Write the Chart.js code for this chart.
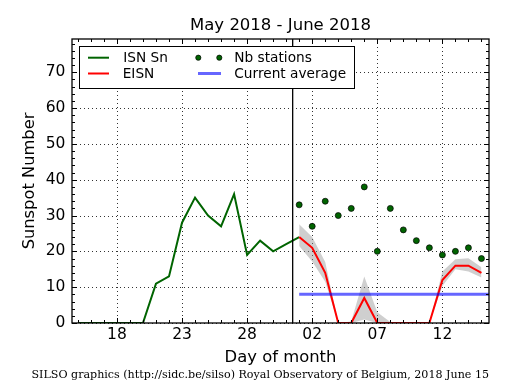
<!DOCTYPE html>
<html><head><meta charset="utf-8">
<script src="https://cdn.jsdelivr.net/npm/chart.js@4.4.1/dist/chart.umd.min.js"></script>
<style>html,body{margin:0;padding:0;background:#fff;}canvas{display:block}</style>
</head><body>
<canvas id="c" width="515" height="390"></canvas>
<script>
// ---- data ----
const titleText = 'May 2018 - June 2018';
const footerText = 'SILSO graphics (http://sidc.be/silso) Royal Observatory of Belgium, 2018 June 15';
const xAxisTitle = 'Day of month';
const yAxisTitle = 'Sunspot Number';
// day index: May 1 = 1, June 1 = 32
const isnDays   = [15,16,17,18,19,20,21,22,23,24,25,26,27,28,29,30,31,32];
const isnValues = [0,0,0,0,0,0,11,13,28,35,30,27,36,19,23,20,22,24];
const eisnDays   = [32,33,34,35,36,37,38,39,40,41,42,43,44,45,46];
const eisnValues = [24,21,14,0,0,7,0,0,0,0,0,12,16,16,14];
const eisnLower  = [21.5,17.2,11.5,0,0,1,0,0,0,0,0,10.3,15,14.4,12.7];
const eisnUpper  = [27.6,24,17,0,0.4,13,3,0.3,0,0,0,14.4,17.8,18.1,15.6];
const stationCounts = [33,27,34,30,32,38,20,32,26,23,21,19,20,21,18];
const currentAverage = 8;
const monthBoundary = 31.5;
const xTickValues = [18,23,28,33,38,43];
const xTickLabels = ['18','23','28','02','07','12'];
const yTickValues = [0,10,20,30,40,50,60,70];
const legendLabels = ['ISN Sn','EISN','Nb stations','Current average'];

// ---- axis ranges ----
const xMin = 14.55, xMax = 46.58, yMin = 0, yMax = 79.3;

const FONT = 'DejaVu Sans';
const pairs = (xs, ys) => xs.map((x, i) => ({x: x, y: ys[i]}));

const framePlugin = {
  id: 'frame',
  beforeDatasetsDraw(chart) {
    const {ctx, chartArea: a, scales: {x, y}} = chart;
    ctx.save();
    ctx.strokeStyle = 'rgba(0,0,0,0.8)';
    ctx.lineWidth = 1;
    ctx.setLineDash([1, 3]);
    xTickValues.forEach(v => {
      const px = Math.round(x.getPixelForValue(v)) + 0.5;
      ctx.beginPath(); ctx.moveTo(px, a.top); ctx.lineTo(px, a.bottom); ctx.stroke();
    });
    yTickValues.forEach(v => {
      const py = Math.round(y.getPixelForValue(v)) + 0.5;
      ctx.beginPath(); ctx.moveTo(a.left, py); ctx.lineTo(a.right, py); ctx.stroke();
    });
    ctx.restore();
  },
  afterDatasetsDraw(chart) {
    const {ctx, chartArea: a, scales: {x, y}} = chart;
    ctx.save();
    ctx.strokeStyle = '#000';
    ctx.lineWidth = 1.3;
    const mb = x.getPixelForValue(monthBoundary);
    ctx.beginPath(); ctx.moveTo(mb, a.top); ctx.lineTo(mb, a.bottom); ctx.stroke();
    ctx.lineWidth = 1.3;
    ctx.strokeRect(a.left, a.top, a.right - a.left, a.bottom - a.top);
    ctx.lineWidth = 1;
    const tick = (x1, y1, x2, y2) => { ctx.beginPath(); ctx.moveTo(x1, y1); ctx.lineTo(x2, y2); ctx.stroke(); };
    for (let d = Math.ceil(xMin); d <= Math.floor(xMax); d++) {
      const len = xTickValues.includes(d) ? 5 : 3;
      const px = Math.round(x.getPixelForValue(d)) + 0.5;
      tick(px, a.bottom, px, a.bottom - len);
      tick(px, a.top, px, a.top + len);
    }
    for (let v = yMin; v <= yMax; v += 2) {
      const len = yTickValues.includes(v) ? 5 : 3;
      const py = Math.round(y.getPixelForValue(v)) + 0.5;
      tick(a.left, py, a.left + len, py);
      tick(a.right, py, a.right - len, py);
    }
    ctx.restore();
  },
  afterDraw(chart) {
    const {ctx} = chart;
    const ds = chart.data.datasets;
    ctx.save();
    ctx.fillStyle = '#fff';
    ctx.strokeStyle = '#000';
    ctx.lineWidth = 1;
    ctx.fillRect(79.5, 46.5, 275, 42);
    ctx.strokeRect(79.5, 46.5, 275, 42);
    const r1 = 58, r2 = 74;
    const line = (x1, x2, yy, color, w) => {
      ctx.strokeStyle = color; ctx.lineWidth = w;
      ctx.beginPath(); ctx.moveTo(x1, yy); ctx.lineTo(x2, yy); ctx.stroke();
    };
    line(88, 109, r1 - 0.3, ds[2].borderColor, ds[2].borderWidth);
    line(88, 109, r2 - 0.5, ds[3].borderColor, ds[3].borderWidth);
    line(198, 221, r2 - 0.5, ds[4].borderColor, ds[4].borderWidth);
    [198.3, 219.3].forEach(cx => {
      ctx.beginPath(); ctx.arc(cx, r1 - 0.3, 2.6, 0, Math.PI * 2);
      ctx.fillStyle = ds[5].pointBackgroundColor; ctx.fill();
      ctx.strokeStyle = ds[5].pointBorderColor; ctx.lineWidth = 0.7; ctx.stroke();
    });
    ctx.fillStyle = '#000';
    ctx.font = '13.7px "DejaVu Sans"';
    ctx.textBaseline = 'middle';
    ctx.textAlign = 'left';
    ctx.fillText(legendLabels[0], 123.3, r1);
    ctx.fillText(legendLabels[1], 122.7, r2);
    ctx.fillText(legendLabels[2], 234.3, r1);
    ctx.fillText(legendLabels[3], 234.3, r2);
    ctx.restore();
  }
};

new Chart(document.getElementById('c'), {
  type: 'line',
  data: {
    datasets: [
      {label: 'EISN lower', data: pairs(eisnDays, eisnLower), borderWidth: 0, borderColor: 'rgba(0,0,0,0)', pointRadius: 0, fill: false, order: 11},
      {label: 'EISN upper', data: pairs(eisnDays, eisnUpper), borderWidth: 0, borderColor: 'rgba(0,0,0,0)', pointRadius: 0, fill: '-1', backgroundColor: 'rgba(140,140,140,0.42)', order: 10},
      {label: legendLabels[0], data: pairs(isnDays, isnValues), borderColor: '#006400', borderWidth: 2, pointRadius: 0, fill: false, order: 5},
      {label: legendLabels[1], data: pairs(eisnDays, eisnValues), borderColor: '#ff0000', borderWidth: 2, pointRadius: 0, fill: false, order: 4},
      {label: legendLabels[3], data: [{x: eisnDays[0], y: currentAverage}, {x: xMax + 1, y: currentAverage}], borderColor: 'rgba(0,0,255,0.6)', borderWidth: 3, pointRadius: 0, fill: false, order: 3},
      {label: legendLabels[2], data: pairs(eisnDays, stationCounts), showLine: false, pointRadius: 3, pointBackgroundColor: '#006400', pointBorderColor: '#000', pointBorderWidth: 0.7, fill: false, order: 1}
    ]
  },
  options: {
    responsive: false,
    animation: false,
    devicePixelRatio: 1,
    layout: {padding: {left: 0, right: 26, top: 0, bottom: 0}},
    plugins: {
      legend: {display: false},
      tooltip: {enabled: false},
      title: {display: true, text: titleText, color: '#000', fullSize: false,
              font: {family: FONT, size: 16.5, weight: 'normal'}, padding: {top: 16, bottom: 3.2}},
      subtitle: {display: true, position: 'bottom', align: 'end', text: footerText, color: '#000',
                 font: {family: 'DejaVu Serif', size: 11.1, weight: 'normal'}, padding: {top: 0, bottom: 8.6}}
    },
    scales: {
      x: {
        type: 'linear', min: xMin, max: xMax,
        afterBuildTicks: s => { s.ticks = xTickValues.map(v => ({value: v})); },
        afterFit: s => { s.height = 45.08; },
        ticks: {callback: (v, i) => xTickLabels[i], color: '#000', font: {family: FONT, size: 15.5}, padding: 2.4, maxRotation: 0, autoSkip: false},
        grid: {display: false, drawTicks: false},
        border: {display: false},
        title: {display: true, text: xAxisTitle, color: '#000', font: {family: FONT, size: 16.4}, padding: {top: 0, bottom: 0}}
      },
      y: {
        type: 'linear', min: yMin, max: yMax,
        afterBuildTicks: s => { s.ticks = yTickValues.map(v => ({value: v})); },
        afterFit: s => { s.width = 72; },
        ticks: {color: '#000', font: {family: FONT, size: 15.5}, padding: 6.6},
        grid: {display: false, drawTicks: false},
        border: {display: false},
        title: {display: true, text: yAxisTitle, color: '#000', font: {family: FONT, size: 16.3}, padding: {top: 20.2, bottom: 0}}
      }
    }
  },
  plugins: [framePlugin]
});
</script>
</body></html>
